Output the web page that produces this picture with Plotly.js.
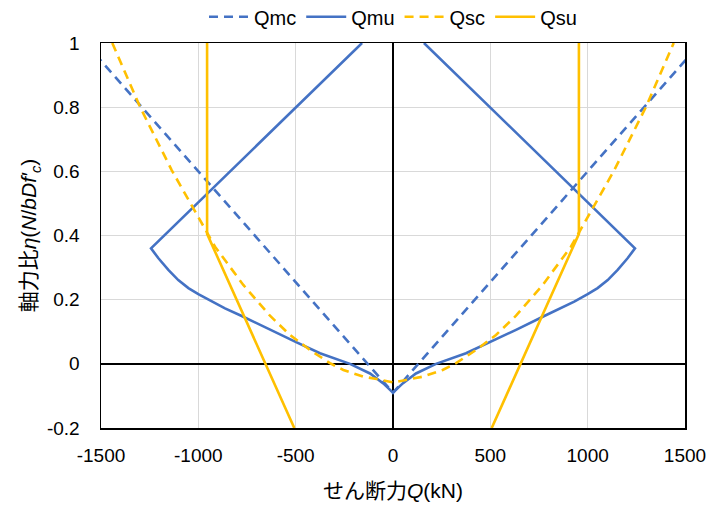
<!DOCTYPE html>
<html>
<head>
<meta charset="utf-8">
<script src="https://cdn.plot.ly/plotly-3.0.1.min.js"></script>
<style>
  html, body { margin: 0; padding: 0; background: #fff; }
  #chart { width: 709px; height: 506px; }
</style>
</head>
<body>
<div id="chart"></div>
<script>
// Shear force Q (kN) versus axial force ratio η for the four capacity curves.

// Qmc: flexural cracking strength
const qmcX = [-1580, 0, 1580];
const qmcY = [1.0, -0.09, 1.0];

// Qmu: ultimate flexural strength
const qmuX = [-159, -1243, -1205, -1154, -1103, -1051, -1000, -931, -863, -777, -632, -503, -375, -221, -118, -50, 0,
              50, 118, 221, 375, 503, 632, 777, 863, 931, 1000, 1051, 1103, 1154, 1205, 1243, 159];
const qmuY = [1.0, 0.36, 0.329, 0.293, 0.261, 0.236, 0.217, 0.194, 0.173, 0.149, 0.106, 0.069, 0.033, 0.0, -0.03, -0.061, -0.09,
              -0.061, -0.03, 0.0, 0.033, 0.069, 0.106, 0.149, 0.173, 0.194, 0.217, 0.236, 0.261, 0.293, 0.329, 0.36, 1.0];

// Qsc: shear cracking strength
const qscX = [-1442, -1299, -1137, -1030, -914, -769, -632, -529, -426, -324, -255, -153, -84, 0,
              84, 153, 255, 324, 426, 529, 632, 769, 914, 1030, 1137, 1299, 1442];
const qscY = [1.0, 0.80, 0.604, 0.49, 0.365, 0.246, 0.15, 0.09, 0.043, 0.002, -0.019, -0.04, -0.047, -0.058,
              -0.047, -0.04, -0.019, 0.002, 0.043, 0.09, 0.15, 0.246, 0.365, 0.49, 0.604, 0.80, 1.0];

// Qsu: ultimate shear strength (two separate branches)
const qsuX = [-955, -955, -507, null, 507, 955, 955];
const qsuY = [1.0, 0.405, -0.2, null, -0.2, 0.405, 1.0];

// Axis ticks
const xTickVals = [-1500, -1000, -500, 0, 500, 1000, 1500];
const xTickText = ['-1500', '-1000', '-500', '0', '500', '1000', '1500'];
const yTickVals = [-0.2, 0, 0.2, 0.4, 0.6, 0.8, 1];
const yTickText = ['-0.2', '0', '0.2', '0.4', '0.6', '0.8', '1'];

const BLUE = '#4472C4';
const GOLD = '#FFC000';
const DASH = '9px,6px';
const LW = 2.6;

const traces = [
  { name: 'Qmc', x: qmcX, y: qmcY, mode: 'lines', line: { color: BLUE, width: LW, dash: DASH } },
  { name: 'Qmu', x: qmuX, y: qmuY, mode: 'lines', line: { color: BLUE, width: LW } },
  { name: 'Qsc', x: qscX, y: qscY, mode: 'lines', line: { color: GOLD, width: LW, dash: DASH } },
  { name: 'Qsu', x: qsuX, y: qsuY, mode: 'lines', connectgaps: false, line: { color: GOLD, width: LW } }
];

const FONT = 'Liberation Sans, Arial, Noto Sans CJK JP, sans-serif';

const layout = {
  width: 709,
  height: 506,
  margin: { l: 101, r: 24, t: 43, b: 78, autoexpand: false },
  paper_bgcolor: '#fff',
  plot_bgcolor: '#fff',
  font: { family: FONT, size: 19, color: '#000' },
  showlegend: true,
  legend: {
    orientation: 'h',
    x: 0.5, xanchor: 'center',
    y: 1.068, yanchor: 'middle',
    font: { size: 20, color: '#000' },
    itemwidth: 40,
    tracegroupgap: 0
  },
  xaxis: {
    range: [-1500, 1500],
    tickvals: xTickVals,
    ticktext: xTickText,
    ticks: '',
    ticklabelstandoff: 10,
    showgrid: true,
    gridcolor: '#D9D9D9',
    gridwidth: 1,
    zeroline: true,
    zerolinecolor: '#000',
    zerolinewidth: 2,
    showline: true,
    mirror: true,
    linecolor: '#000',
    linewidth: 1.5,
    tickfont: { size: 19 },
    title: { text: 'せん断力<i>Q</i>(kN)', font: { size: 21 }, standoff: 18 }
  },
  yaxis: {
    range: [-0.2, 1],
    tickvals: yTickVals,
    ticktext: yTickText,
    ticks: '',
    ticklabelstandoff: 16,
    showgrid: true,
    gridcolor: '#D9D9D9',
    gridwidth: 1,
    zeroline: true,
    zerolinecolor: '#000',
    zerolinewidth: 2,
    showline: true,
    mirror: true,
    linecolor: '#000',
    linewidth: 1.5,
    tickfont: { size: 19 },
    title: { text: '軸力比<i>η</i>(<i>N</i>/<i>bDf′</i><sub><i>c</i></sub>)', font: { size: 21 }, standoff: 4 }
  }
};

Plotly.newPlot('chart', traces, layout, { staticPlot: true, displayModeBar: false });
</script>
</body>
</html>
